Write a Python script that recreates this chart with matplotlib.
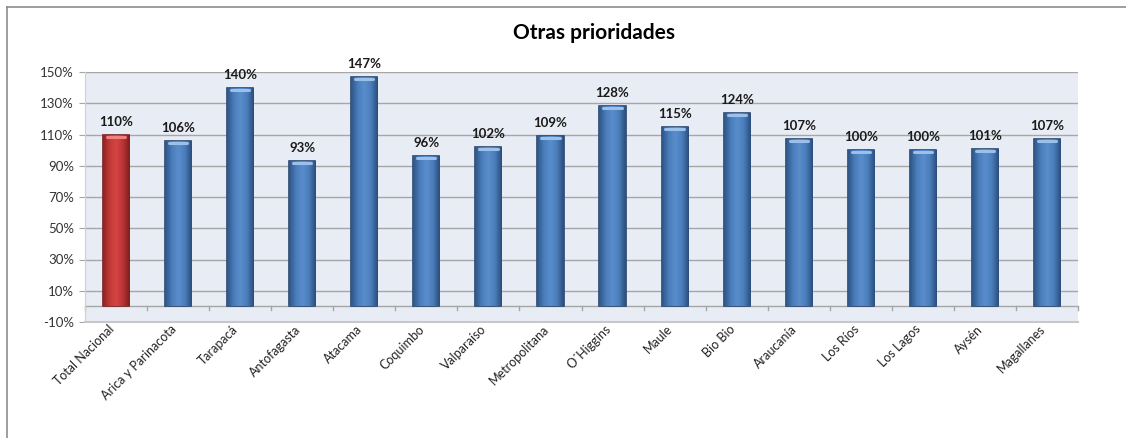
import numpy as np
import matplotlib
matplotlib.use("Agg")
import matplotlib.pyplot as plt
from matplotlib.lines import Line2D
from matplotlib.colors import LinearSegmentedColormap
from matplotlib.transforms import ScaledTranslation

categories = ["Total Nacional", "Arica y Parinacota", "Tarapacá", "Antofagasta", "Atacama",
              "Coquimbo", "Valparaíso", "Metropolitana", "O´Higgins", "Maule", "Bio Bio",
              "Araucanía", "Los Ríos", "Los Lagos", "Aysén", "Magallanes"]
values = [110, 106, 140, 93, 147, 96, 102, 109, 128, 115, 124, 107, 100, 100, 101, 107]
yticks = [-10, 10, 30, 50, 70, 90, 110, 130, 150]
title = "Otras prioridades"

plt.rcParams['font.family'] = ['Lato', 'DejaVu Sans']

fig = plt.figure(figsize=(11.26, 4.38), dpi=100)
ax = fig.add_axes([85/1126, 116/438, 993/1126, 250/438])
ax.set_facecolor('#E8ECF4')

x = np.arange(len(categories))
colors = ['#C8383A'] + ['#4F81BD'] * (len(categories) - 1)
edges = ['#7A1E1E'] + ['#27466E'] * (len(categories) - 1)
bars = ax.bar(x, values, width=0.42, color=colors, edgecolor=edges, linewidth=1.2, zorder=3)

blue_cmap = LinearSegmentedColormap.from_list('b', ['#2E5687', '#4A7DBA', '#5A8DCC', '#4A7DBA', '#2A4E7C'])
red_cmap = LinearSegmentedColormap.from_list('r', ['#8E2424', '#C43A38', '#D44544', '#B83434', '#7E1E1E'])
grad = np.linspace(0, 1, 64).reshape(1, -1)
for i, b in enumerate(bars):
    x0, y0 = b.get_x(), b.get_y()
    w, h = b.get_width(), b.get_height()
    cm = red_cmap if i == 0 else blue_cmap
    im = ax.imshow(grad, cmap=cm, aspect='auto', extent=(x0, x0 + w, y0, y0 + h), zorder=3.5,
                   interpolation='bicubic')
    im.set_clip_path(b)
    ax.plot([x0 + w*0.15, x0 + w*0.85], [y0 + h - 1.3, y0 + h - 1.3],
            color='#F08080' if i == 0 else '#9CC0EC', lw=2.2, zorder=4, solid_capstyle='round')
    ax.annotate(f"{values[i]}%", (b.get_x() + w/2, values[i]), xytext=(0, 5),
                textcoords='offset points', ha='center', va='bottom',
                fontsize=9.5, fontweight='bold', color='#1A1A1A', zorder=5)

ax.set_xlim(-0.5, len(categories) - 0.5)
ax.set_ylim(-10, 150)
ax.set_yticks(yticks)
ax.set_yticklabels([f"{t}%" for t in yticks], fontsize=9.5, color='#333333')
ax.yaxis.grid(True, color='#A6A6A6', lw=1, zorder=1)
ax.set_axisbelow(True)
ax.tick_params(axis='y', length=4, color='#A6A6A6', pad=4)

ax.set_xticks(x)
ax.set_xticklabels(categories, rotation=45, ha='right', va='top', rotation_mode='anchor',
                   fontsize=9, color='#222222')
ax.tick_params(axis='x', length=0, pad=0)
off = ScaledTranslation(-8/100, -1/100, fig.dpi_scale_trans)
for lbl in ax.get_xticklabels():
    lbl.set_transform(lbl.get_transform() + off)

ax.axhline(0, color='#A6A6A6', lw=1, zorder=2)
for bnd in np.arange(-0.5, len(categories) + 0.5, 1.0):
    ax.plot([bnd, bnd], [0, -2.2], color='#A6A6A6', lw=1, zorder=2, clip_on=False)

for s in ['top', 'right']:
    ax.spines[s].set_visible(False)
ax.spines['left'].set_color('#D0D0D0')
ax.spines['bottom'].set_color('#C8C8C8')
ax.spines['bottom'].set_linewidth(1.5)

fig.text(594/1126, 1 - 33/438, title, ha='center', va='center', fontsize=15, fontweight='bold',
         color='#000000')

fig.add_artist(Line2D([6.5/1126, 6.5/1126], [0, 1 - 6.5/438], transform=fig.transFigure,
                      color='#8C8C8C', lw=1.2))
fig.add_artist(Line2D([6.5/1126, 1], [1 - 6.5/438, 1 - 6.5/438], transform=fig.transFigure,
                      color='#8C8C8C', lw=1.2))

fig.savefig('out.png', dpi=100)
